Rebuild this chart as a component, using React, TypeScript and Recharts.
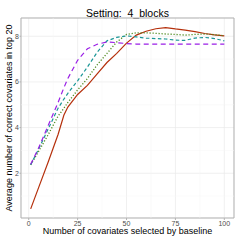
import { LineChart, Line, XAxis, YAxis, CartesianGrid, ReferenceLine, ReferenceArea } from "recharts";

const xs = [1, 5, 10, 15, 18, 20, 25, 30, 35, 40, 45, 50, 55, 60, 65, 70, 75, 80, 85, 90, 95, 100];
const redVals = [0.44, 1.36, 2.5, 3.7, 4.55, 4.9, 5.45, 5.85, 6.35, 6.85, 7.25, 7.7, 8.05, 8.22, 8.33, 8.38, 8.32, 8.27, 8.2, 8.12, 8.06, 8.02];
const greenVals = [2.37, 2.95, 3.7, 4.5, 4.85, 5.1, 5.65, 6.15, 6.75, 7.25, 7.75, 8.08, 8.15, 8.15, 8.13, 8.1, 8.08, 8.05, 8.08, 8.1, 8.07, 8.02];
const tealVals = [2.37, 3.05, 3.95, 4.85, 5.25, 5.5, 6.05, 6.65, 7.3, 7.8, 7.95, 8.02, 7.97, 7.92, 7.9, 7.88, 7.83, 7.82, 7.92, 7.95, 7.9, 7.8];
const purpleVals = [2.39, 3.1, 4.1, 5.1, 5.75, 6.15, 6.95, 7.45, 7.65, 7.75, 7.72, 7.68, 7.66, 7.66, 7.66, 7.66, 7.66, 7.66, 7.66, 7.66, 7.66, 7.66];

const xTicks = [0, 25, 50, 75, 100];
const yTicks = [2, 4, 6, 8];
const xMinor = [12.5, 37.5, 62.5, 87.5];
const yMinor = [1, 3, 5, 7];

const data = xs.map((x, i) => ({
  x,
  red: redVals[i],
  green: greenVals[i],
  teal: tealVals[i],
  purple: purpleVals[i],
}));

const font = "'Liberation Sans', Arial, sans-serif";
const XMIN = -3.95;
const XMAX = 104.95;
const YMIN = 0.04;
const YMAX = 8.8;

export default function App() {
  return (
    <div style={{ position: "fixed", left: 0, top: 0, width: 241, height: 241, background: "#fff", fontFamily: font }}>
      <svg width={241} height={241} style={{ position: "absolute", left: 0, top: 0 }}>
        <text x={127.5} y={16.5} textAnchor="middle" fontSize={10.5} fontFamily={font} fill="#000" style={{ whiteSpace: "pre" }}>
          {"Setting:  4_blocks"}
        </text>
      </svg>
      <div style={{ position: "absolute", left: 0, top: 0 }}>
        <LineChart width={241} height={241} data={data} margin={{ top: 18, right: 7, bottom: 0, left: 0 }}>
          {xMinor.map((v) => (
            <ReferenceLine key={"mx" + v} x={v} stroke="#F4F4F4" strokeWidth={0.5} />
          ))}
          {yMinor.map((v) => (
            <ReferenceLine key={"my" + v} y={v} stroke="#F4F4F4" strokeWidth={0.5} />
          ))}
          <CartesianGrid stroke="#EAEAEA" strokeWidth={0.7} />
          <XAxis
            type="number"
            dataKey="x"
            domain={[XMIN, XMAX]}
            ticks={xTicks}
            allowDataOverflow
            height={23}
            axisLine={false}
            tickSize={2}
            tickMargin={1}
            tickLine={{ stroke: "#B3B3B3" }}
            tick={{ fontSize: 7, fill: "#4D4D4D", fontFamily: font }}
            label={{
              content: () => (
                <text x={127.5} y={234} textAnchor="middle" fontSize={9} fontFamily={font} fill="#000">
                  Number of covariates selected by baseline
                </text>
              ),
            }}
          />
          <YAxis
            type="number"
            domain={[YMIN, YMAX]}
            ticks={yTicks}
            allowDataOverflow
            width={21}
            axisLine={false}
            tickSize={1.5}
            tickMargin={0.5}
            tickLine={{ stroke: "#B3B3B3" }}
            tick={{ fontSize: 7, fill: "#4D4D4D", fontFamily: font }}
            label={{
              content: () => (
                <text
                  x={12}
                  y={118}
                  transform="rotate(-90 12 118)"
                  textAnchor="middle"
                  fontSize={9}
                  fontFamily={font}
                  fill="#000"
                >
                  Average number of correct covariates in top 20
                </text>
              ),
            }}
          />
          <Line type="linear" dataKey="red" stroke="#B5300C" strokeWidth={1.2} dot={false} activeDot={false} isAnimationActive={false} />
          <Line type="linear" dataKey="green" stroke="#4F8A1F" strokeWidth={1.3} strokeDasharray="1.2 1.8" dot={false} activeDot={false} isAnimationActive={false} />
          <Line type="linear" dataKey="teal" stroke="#1A9696" strokeWidth={1.2} strokeDasharray="3.5 2.5" dot={false} activeDot={false} isAnimationActive={false} />
          <Line type="linear" dataKey="purple" stroke="#9A1FE6" strokeWidth={1.2} strokeDasharray="5 3.5" dot={false} activeDot={false} isAnimationActive={false} />
          <ReferenceArea x1={XMIN} x2={XMAX} y1={YMIN} y2={YMAX} fill="none" stroke="#B3B3B3" strokeWidth={1} ifOverflow="visible" />
        </LineChart>
      </div>
    </div>
  );
}
